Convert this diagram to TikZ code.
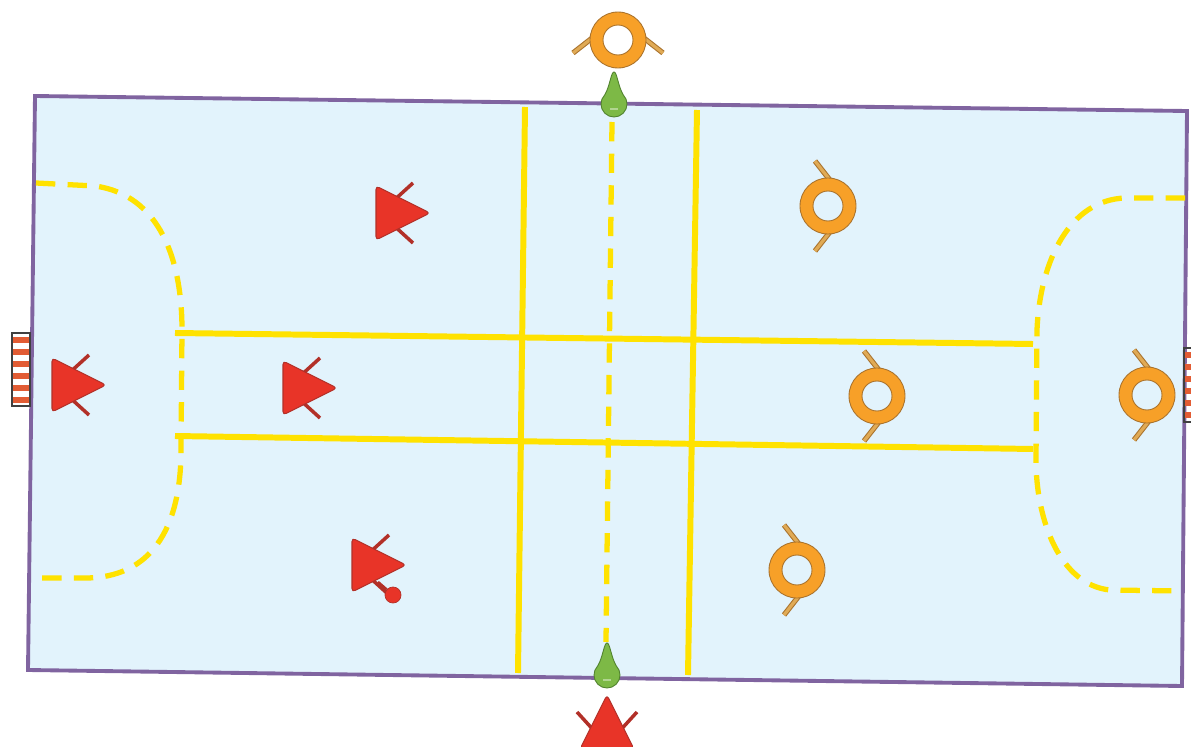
\documentclass[tikz,border=0pt]{standalone}
\definecolor{terrain}{RGB}{226,243,252}
\definecolor{bord}{RGB}{128,100,160}
\definecolor{jaune}{RGB}{255,226,0}
\definecolor{rouge}{RGB}{232,52,40}
\definecolor{rougefonce}{RGB}{178,48,40}
\definecolor{orangej}{RGB}{247,160,40}
\definecolor{orangefonce}{RGB}{170,115,45}
\definecolor{bras}{RGB}{224,170,85}
\definecolor{vert}{RGB}{125,185,70}
\definecolor{vertfonce}{RGB}{80,130,45}
\definecolor{filet}{RGB}{226,92,52}

\begin{document}
\begin{tikzpicture}[x=0.02cm, y=-0.02cm,
		ligne/.style={jaune, line width=3.4pt},
		pointille/.style={jaune, line width=3pt, dash pattern=on 11pt off 7pt},
		but/.style={draw=black!75, line width=0.6pt},
		balle/.style={circle, fill=rouge, draw=rougefonce, inner sep=0pt, minimum size=0.32cm},
		attaquant/.pic={
			\draw[rougefonce, line width=2pt] (15,-10) -- (37,-30) (15,10) -- (37,30);
			\filldraw[fill=rouge, draw=rougefonce, line width=0.6pt, rounded corners=2pt]
				(0,-27) -- (54,0) -- (0,27) -- cycle;
		},
		defenseur/.pic={
			\draw[orangefonce, line width=3pt] (-5,-22) -- (13,-45) (-5,22) -- (13,45);
			\draw[bras, line width=1.8pt] (-5,-22) -- (13,-45) (-5,22) -- (13,45);
			\filldraw[fill=orangej, draw=orangefonce, line width=0.5pt, even odd rule]
				(0,0) circle (28) (0,0) circle (15);
		},
		plot/.pic={
			\filldraw[fill=vert, draw=vertfonce, line width=0.5pt]
				(0,-32) .. controls (3,-32) and (4,-18) .. (-45:13)
				arc[start angle=-45, end angle=225, radius=13]
				.. controls (-4,-18) and (-3,-32) .. (0,-32) -- cycle;
			\fill[vert!60!white] (-4,4) rectangle (4,6);
		}]
	\useasboundingbox (0,0) rectangle (1191,747);

	% terrain
	\filldraw[fill=terrain, draw=bord, line width=2.2pt]
		(35,96) -- (1187,111) -- (1182,686) -- (28,670) -- cycle;

	% zones
	\draw[pointille] (36,183) -- (95,186) .. controls (160,195) and (182,260) .. (182,330)
		-- (181,450) .. controls (181,530) and (150,578) .. (85,578) -- (35,578);
	\draw[pointille] (1185,198) -- (1125,198) .. controls (1070,200) and (1040,260) .. (1037,330)
		-- (1036,460) .. controls (1036,520) and (1060,585) .. (1110,590) -- (1182,591);

	% couloirs
	\draw[ligne] (175,333) -- (1033,344);
	\draw[ligne] (175,436) -- (1033,449);
	\draw[ligne] (525,107) -- (518,673);
	\draw[ligne] (697,110) -- (688,675);
	\draw[pointille] (612,122) -- (606,642);

	% buts
	\foreach \k in {0, ..., 5} {
			\fill[filet] (12,{337+12*\k}) rectangle (30,{343+12*\k});
			\fill[filet] (1184,{352+12*\k}) rectangle (1195,{358+12*\k});
		}
	\draw[but] (12,333) rectangle (30,406);
	\draw[but] (1184,348) rectangle (1195,422);

	% plots
	\pic at (614,104) {plot};
	\pic at (607,675) {plot};

	% joueurs
	\pic at (52,385) {attaquant};
	\pic at (283,388) {attaquant};
	\pic at (376,213) {attaquant};
	\pic at (352,565) {attaquant};
	\pic[rotate=90] at (607,749) {attaquant};

	\pic[rotate=-90] at (618,40) {defenseur};
	\pic[rotate=180] at (828,206) {defenseur};
	\pic[rotate=180] at (877,396) {defenseur};
	\pic[rotate=180] at (797,570) {defenseur};
	\pic[rotate=180] at (1147,395) {defenseur};

	% ballon
	\coordinate (main) at (378,582);
	\node[balle] (ballon) at (393,595) {};
	\draw[rougefonce, line width=1.5pt] (main) -- (ballon);
\end{tikzpicture}
\end{document}
